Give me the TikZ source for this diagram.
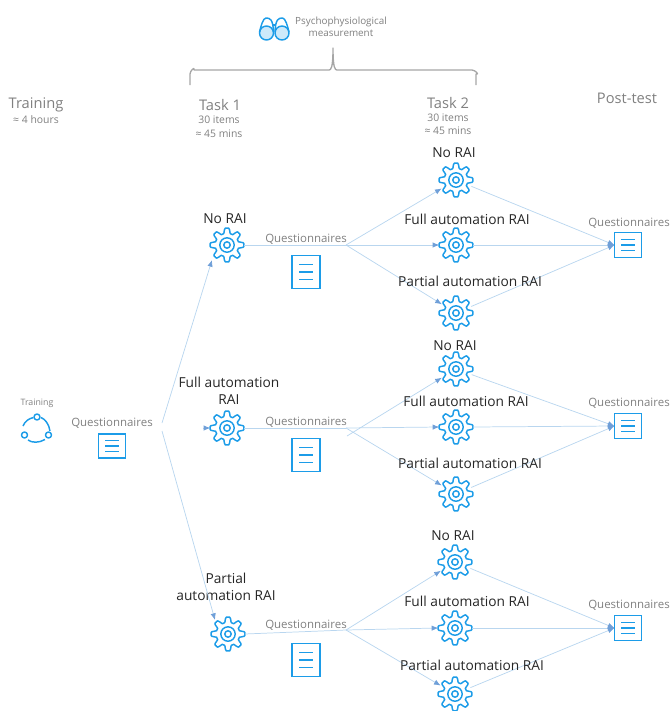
\documentclass[tikz,border=0pt]{standalone}
\usepackage{fontspec}
\setmainfont{Open Sans}
\usetikzlibrary{arrows.meta,calc}
\definecolor{iconblue}{HTML}{1C9CE8}
\definecolor{linkblue}{HTML}{B9D6EF}
\definecolor{tipblue}{HTML}{6F9FD8}
\definecolor{softgray}{HTML}{808080}
\tikzset{
  icon/.style={draw=iconblue,line width=1.1pt,line join=round},
  gearbox/.style={circle,minimum size=25pt,inner sep=0pt,outer sep=0pt},
  docbox/.style={draw=iconblue,line width=1pt,inner sep=0pt,outer sep=0pt,fill=white},
  link/.style={draw=linkblue,line width=0.55pt},
  arrowlink/.style={link,-{Latex[length=5pt,width=4pt,color=tipblue]}},
  greytext/.style={text=softgray,font=\fontsize{8.6}{9.5}\selectfont,align=center,inner sep=0pt},
  psytext/.style={text=softgray,font=\fontsize{7.4}{9}\selectfont,align=center,inner sep=0pt},
  head/.style={text=softgray,font=\fontsize{11}{12}\selectfont,inner sep=0pt},
  smalltext/.style={text=softgray,font=\fontsize{7.8}{9}\selectfont,inner sep=0pt},
  rai/.style={text=black!85,font=\fontsize{10.3}{12.7}\selectfont,align=center,inner sep=0pt},
}
\newcommand{\gearat}[3]{%
  \node[gearbox] (#1) at (#2,#3) {};
  \draw[icon,shift={(#2,#3)}] plot[domain=0:356,samples=90] (\x:{14.3+3.1*(cos(8*\x)-0.22*cos(24*\x))}) -- cycle;
  \draw[icon,shift={(#2,#3)}] (0,0) circle[radius=7.2];
  \draw[icon,shift={(#2,#3)}] (0,0) circle[radius=3.2];
}
\newcommand{\docat}[6]{%
  \node[docbox,minimum width=#4*0.75pt,minimum height=#5*0.75pt] (#1) at (#2,#3) {};
  \foreach \dy in {-#6,0,#6}{
    \draw[icon,line width=0.85pt] ($(#1.center)+(-7,\dy)$) -- ($(#1.center)+(7,\dy)$);
  }
}
\begin{document}
\begin{tikzpicture}[x=0.75pt,y=-0.75pt]
\useasboundingbox (0,0) rectangle (670,711);

% top
\node[psytext] (psy) at (341,27) {Psychophysiological\\measurement};
\node[gearbox,minimum size=20pt] (bino) at (274,28) {};
\draw[icon,fill=iconblue!22] (266.5,33) circle[radius=7];
\draw[icon,fill=iconblue!22] (282,33) circle[radius=7];
\draw[icon] (259.5,32) .. controls (261,26) and (263,18) .. (266,18) .. controls (270,18) and (273,19) .. (273.5,32);
\draw[icon] (289,32) .. controls (287.5,26) and (285.5,18) .. (282.5,18) .. controls (278.5,18) and (275.5,19) .. (275,32);
\draw[icon] (273,25) -- (275.5,25);

\coordinate (bl) at (190,85);
\coordinate (br) at (476,85);
\coordinate (bt) at (333,48);
\draw[draw=black!35,line width=1pt,line join=round] (bl) -- ++(0,-11) .. controls +(0,-3) and +(1,-4) .. ++(4,-4) -- (329,70) .. controls (331,70) and (333,68) .. (bt) .. controls (333,68) and (335,70) .. (337,70) -- (472,70) .. controls +(3,0) and +(4,1) .. ++(4,4) -- (br);

\node[head] (h1) at (36,105) {Training};
\node[smalltext] (h1a) at (36,120) {≈ 4 hours};
\node[head] (h2) at (220,105) {Task 1};
\node[smalltext] (h2a) at (219,120) {30 items};
\node[smalltext] (h2b) at (219,134) {≈ 45 mins};
\node[head] (h3) at (448,103) {Task 2};
\node[smalltext] (h3a) at (448,118) {30 items};
\node[smalltext] (h3b) at (448,131) {≈ 45 mins};
\node[head] (h4) at (627,98) {Post-test};

% training
\node[smalltext,font=\fontsize{6.6}{8}\selectfont] (trl) at (37,403) {Training};
\node[gearbox] (cyc) at (37,429) {};
\draw[icon] (37,417) circle[radius=3];
\draw[icon] (24.5,435) circle[radius=3];
\draw[icon] (48.5,435) circle[radius=3];
\draw[icon] (23,426) .. controls (25,421) and (29,418.5) .. (33.5,417.5);
\draw[icon] (41,417.5) .. controls (45,419) and (49,424) .. (50,431);
\draw[icon] (28,440) .. controls (32,443) and (39,443) .. (45,439.5);
\node[greytext] (q0) at (112,423) {Questionnaires};
\docat{d0}{112}{446}{27}{24}{5.5}
\coordinate (hubU) at (162,423);
\coordinate (hubD) at (162,431);
\coordinate (hubM) at (203,428);

% task 1
\gearat{a}{227}{245}
\gearat{b}{227}{428}
\gearat{c}{228}{634}
\node[rai] (la) at (225,219) {No RAI};
\node[rai] (lb) at (229,391) {Full automation\\RAI};
\node[rai] (lc) at (226,587) {Partial\\automation RAI};

\node[greytext] (qa) at (306,239) {Questionnaires};
\docat{da}{306}{272}{28}{33}{7.5}
\node[greytext] (qb) at (306,422) {Questionnaires};
\docat{db}{306}{455}{28}{33}{7.5}
\node[greytext] (qc) at (306,625) {Questionnaires};
\docat{dc}{306}{660}{28}{33}{7.5}

% task 2
\gearat{a1}{456}{180}
\gearat{a2}{456}{245}
\gearat{a3}{456}{313}
\gearat{b1}{456}{369}
\gearat{b2}{456}{427}
\gearat{b3}{456}{494}
\gearat{c1}{455}{562}
\gearat{c2}{455}{628}
\gearat{c3}{455}{694}

% connectors
\coordinate (ha) at (346,245);
\coordinate (hb) at (346,428);
\coordinate (hbu) at (347,436);
\coordinate (hc) at (346,630);

\draw[arrowlink] (hubU) -- (212,260);
\draw[arrowlink] (hubM) -- (b.west);
\draw[arrowlink] (hubD) -- (215,620);

\draw[link] (a.east) -- (ha);
\draw[link] (b.east) -- (hb);
\draw[link] (c.east) -- (hc);

\draw[arrowlink] (ha) -- (a1);
\draw[arrowlink] (ha) -- (a2.west);
\draw[arrowlink] (ha) -- (a3);
\draw[arrowlink] (hbu) -- (b1);
\draw[arrowlink] (hb) -- (b2.west);
\draw[arrowlink] (hb) -- (b3);
\draw[arrowlink] (hc) -- (c1);
\draw[arrowlink] (hc) -- (c2.west);
\draw[arrowlink] (hc) -- (c3);

% post-test
\node[greytext] (qp1) at (629,223) {Questionnaires};
\docat{p1}{628}{245}{27}{25}{5.5}
\node[greytext] (qp2) at (629,403) {Questionnaires};
\docat{p2}{628}{426}{27}{25}{5.5}
\node[greytext] (qp3) at (629,605) {Questionnaires};
\docat{p3}{628}{628}{27}{25}{5.5}

\draw[arrowlink] (a1) -- (p1.west);
\draw[arrowlink] (a2.east) -- (p1.west);
\draw[arrowlink] (a3) -- (p1.west);
\draw[arrowlink] (b1) -- (p2.west);
\draw[arrowlink] (b2.east) -- (p2.west);
\draw[arrowlink] (b3) -- (p2.west);
\draw[arrowlink] (c1) -- (p3.west);
\draw[arrowlink] (c2.east) -- (p3.west);
\draw[arrowlink] (c3) -- (p3.west);

\node[rai] (la1) at (454,153) {No RAI};
\node[rai] (la2) at (467,219) {Full automation RAI};
\node[rai] (la3) at (470,281) {Partial automation RAI};
\node[rai] (lb1) at (455,346) {No RAI};
\node[rai] (lb2) at (466,401) {Full automation RAI};
\node[rai] (lb3) at (470,463) {Partial automation RAI};
\node[rai] (lc1) at (453,536) {No RAI};
\node[rai] (lc2) at (467,601) {Full automation RAI};
\node[rai] (lc3) at (472,665) {Partial automation RAI};
\end{tikzpicture}
\end{document}
